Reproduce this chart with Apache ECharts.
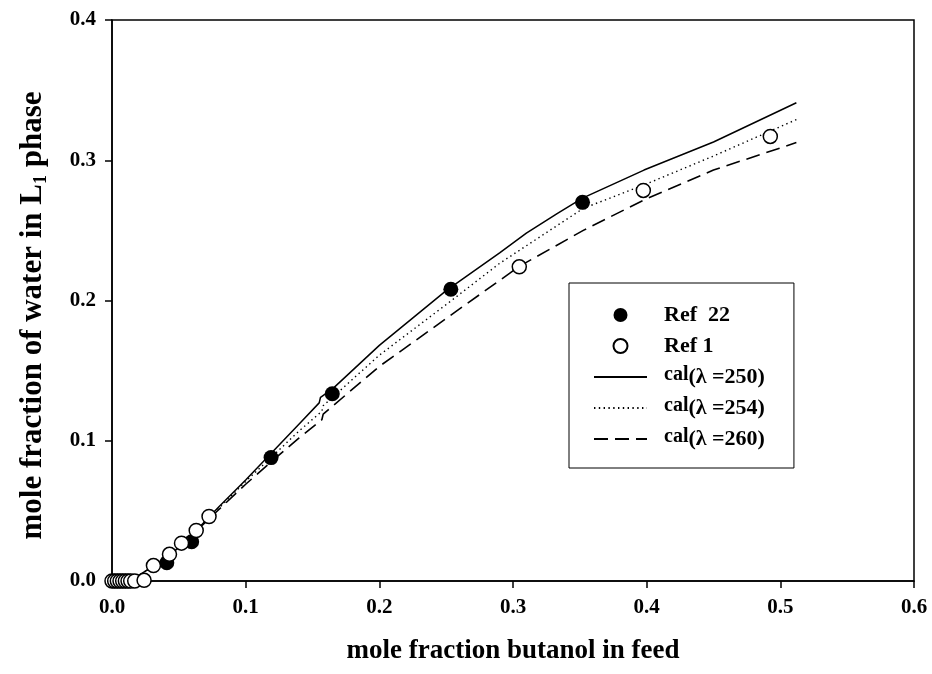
<!DOCTYPE html>
<html><head><meta charset="utf-8">
<script src="https://cdn.jsdelivr.net/npm/echarts@6/dist/echarts.min.js"></script>
<style>html,body{margin:0;background:#fff}#c{width:932px;height:674px}</style>
</head><body><div id="c"></div>
<script>
// Axis ticks
const xTicks = [0.0, 0.1, 0.2, 0.3, 0.4, 0.5, 0.6];
const yTicks = [0.0, 0.1, 0.2, 0.3, 0.4];

// Ref 22 (filled circles)
const ref22X = [0.041, 0.0596, 0.119, 0.1648, 0.2535, 0.352];
const ref22Y = [0.013, 0.028, 0.088, 0.1335, 0.208, 0.270];

// Ref 1 (open circles)
const ref1X = [0.000, 0.002, 0.004, 0.006, 0.008, 0.010, 0.012, 0.014, 0.017, 0.024, 0.031, 0.043, 0.052, 0.063, 0.0726, 0.3047, 0.3975, 0.4925];
const ref1Y = [0.000, 0.000, 0.000, 0.000, 0.000, 0.000, 0.000, 0.000, 0.000, 0.0005, 0.011, 0.019, 0.027, 0.036, 0.046, 0.224, 0.2785, 0.317];

// cal (lambda = 250) solid
const cal250X = [0.012, 0.02, 0.03, 0.04, 0.05, 0.06, 0.07, 0.08, 0.10, 0.12, 0.14, 0.155, 0.156, 0.165, 0.20, 0.25, 0.29, 0.31, 0.333, 0.352, 0.398, 0.45, 0.512];
const cal250Y = [0.000, 0.004, 0.010, 0.016, 0.024, 0.033, 0.043, 0.053, 0.072, 0.092, 0.112, 0.127, 0.131, 0.137, 0.168, 0.207, 0.234, 0.248, 0.262, 0.273, 0.293, 0.313, 0.341];

// cal (lambda = 254) dotted
const cal254X = [0.012, 0.02, 0.03, 0.04, 0.05, 0.06, 0.07, 0.08, 0.10, 0.12, 0.14, 0.157, 0.158, 0.20, 0.254, 0.29, 0.3526, 0.398, 0.45, 0.512];
const cal254Y = [0.000, 0.004, 0.010, 0.016, 0.024, 0.033, 0.043, 0.052, 0.071, 0.089, 0.107, 0.121, 0.125, 0.161, 0.200, 0.2265, 0.2657, 0.2824, 0.303, 0.329];

// cal (lambda = 260) dashed
const cal260X = [0.012, 0.02, 0.03, 0.04, 0.05, 0.06, 0.07, 0.08, 0.10, 0.1207, 0.14, 0.157, 0.158, 0.20, 0.26, 0.305, 0.3526, 0.398, 0.45, 0.512];
const cal260Y = [0.000, 0.004, 0.010, 0.016, 0.024, 0.033, 0.042, 0.051, 0.069, 0.0863, 0.102, 0.115, 0.119, 0.153, 0.194, 0.2245, 0.250, 0.2717, 0.293, 0.3126];

const seriesNames = ['Ref  22', 'Ref 1', 'cal(λ =250)', 'cal(λ =254)', 'cal(λ =260)'];

const zip = (xs, ys) => xs.map((x, i) => [x, ys[i]]);
const FONT = 'Liberation Serif';

const chart = echarts.init(document.getElementById('c'), null, {renderer: 'canvas'});
chart.setOption({
  animation: false,
  backgroundColor: '#fff',
  grid: {left: 112, right: 18, top: 20, bottom: 93, outerBoundsMode: 'none', containLabel: false,
    show: true, borderColor: '#000', borderWidth: 1.5, backgroundColor: 'transparent'},
  xAxis: {
    type: 'value', min: xTicks[0], max: xTicks[xTicks.length - 1], interval: 0.1,
    name: 'mole fraction butanol in feed', nameLocation: 'middle', nameGap: 57,
    nameTextStyle: {fontFamily: FONT, fontWeight: 'bold', fontSize: 27, color: '#000'},
    axisLine: {lineStyle: {color: '#000', width: 1.5}},
    axisTick: {inside: false, length: 7, lineStyle: {color: '#000', width: 1.5}},
    axisLabel: {fontFamily: FONT, fontWeight: 'bold', fontSize: 21, color: '#000', margin: 16, formatter: v => v.toFixed(1)},
    splitLine: {show: false}
  },
  yAxis: {
    type: 'value', min: yTicks[0], max: yTicks[yTicks.length - 1], interval: 0.1,
    name: 'mole fraction of water in L{sub|1} phase', nameLocation: 'middle', nameGap: 62, nameRotate: 90,
    nameTextStyle: {fontFamily: FONT, fontWeight: 'bold', fontSize: 31, color: '#000', padding: [0, 30, 0, 0],
      rich: {sub: {fontFamily: FONT, fontWeight: 'bold', fontSize: 18, color: '#000', verticalAlign: 'bottom', padding: [16, 0, 0, 0]}}},
    axisLine: {lineStyle: {color: '#000', width: 1.5}},
    axisTick: {inside: false, length: 7, lineStyle: {color: '#000', width: 1.5}},
    axisLabel: {fontFamily: FONT, fontWeight: 'bold', fontSize: 21, color: '#000', margin: 16, formatter: v => v.toFixed(1)},
    splitLine: {show: false}
  },
  legend: {
    orient: 'vertical', left: 569, top: 283,
    data: seriesNames.map((n, i) => i < 2 ? {name: n} : {name: n, itemStyle: {opacity: 0}}),
    backgroundColor: '#fff', borderColor: '#000', borderWidth: 1,
    padding: [20, 29, 17, 24], itemGap: 7, itemWidth: 53, itemHeight: 14,
    textStyle: {fontFamily: FONT, fontWeight: 'bold', fontSize: 22, color: '#000', lineHeight: 24, padding: [0, 0, 0, 12],
      rich: {
        s: {fontFamily: FONT, fontWeight: 'bold', fontSize: 20, color: '#000', verticalAlign: 'top', padding: [0, 0, 6, 0]},
        b: {fontFamily: FONT, fontWeight: 'bold', fontSize: 22, color: '#000'}
      }},
    formatter: name => name.startsWith('cal') ? '{s|cal}{b|' + name.slice(3) + '}' : name
  },
  series: [
    {name: seriesNames[2], type: 'line', data: zip(cal250X, cal250Y), showSymbol: false, symbol: 'none', z: 2,
      lineStyle: {color: '#000', width: 1.5, type: 'solid'}, itemStyle: {color: '#000'}},
    {name: seriesNames[3], type: 'line', data: zip(cal254X, cal254Y), showSymbol: false, symbol: 'none', z: 2,
      lineStyle: {color: '#000', width: 1.4, type: [1.4, 3.4]}, itemStyle: {color: '#000'}},
    {name: seriesNames[4], type: 'line', data: zip(cal260X, cal260Y), showSymbol: false, symbol: 'none', z: 2,
      lineStyle: {color: '#000', width: 1.6, type: [14, 7]}, itemStyle: {color: '#000'}},
    {name: seriesNames[0], type: 'scatter', data: zip(ref22X, ref22Y), symbol: 'circle', symbolSize: 15, z: 3,
      itemStyle: {color: '#000', borderWidth: 0, opacity: 1}},
    {name: seriesNames[1], type: 'scatter', data: zip(ref1X, ref1Y), symbol: 'circle', symbolSize: 14, z: 4,
      itemStyle: {color: '#fff', borderColor: '#000', borderWidth: 1.5, opacity: 1}}
  ]
});
</script>
</body></html>
